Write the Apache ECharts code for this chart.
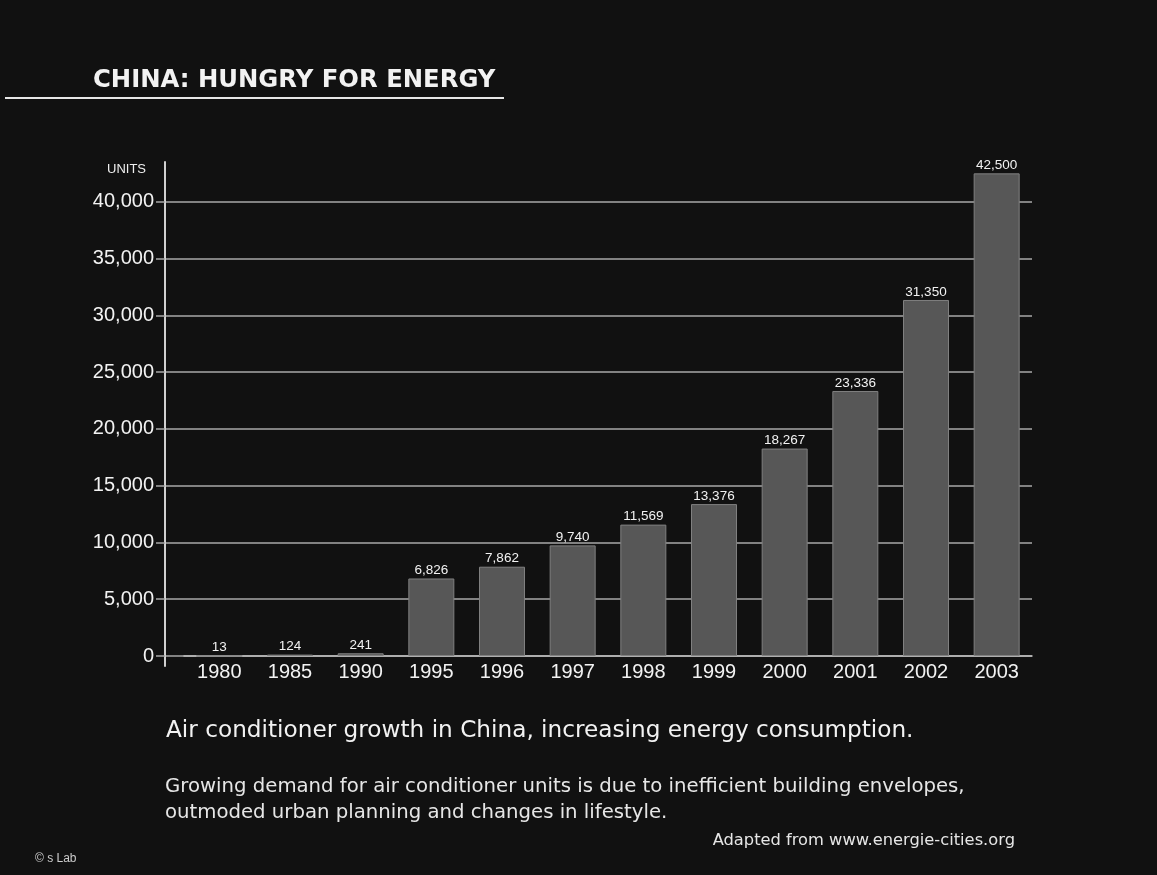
<!DOCTYPE html>
<html>
<head>
<meta charset="utf-8">
<script src="https://cdn.jsdelivr.net/npm/echarts@6/dist/echarts.min.js"></script>
<style>
  html, body { margin: 0; padding: 0; background: #111111; }
  #chart { width: 1157px; height: 875px; }
</style>
</head>
<body>
<div id="chart"></div>
<script>
// ---- data ----
const years = ['1980', '1985', '1990', '1995', '1996', '1997', '1998', '1999', '2000', '2001', '2002', '2003'];
const units = [13, 124, 241, 6826, 7862, 9740, 11569, 13376, 18267, 23336, 31350, 42500];
const yTicks = [0, 5000, 10000, 15000, 20000, 25000, 30000, 35000, 40000];

const titleText = 'CHINA: HUNGRY FOR ENERGY';
const unitText = 'UNITS';
const subtitleText = 'Air conditioner growth in China, increasing energy consumption.';
const bodyText = 'Growing demand for air conditioner units is due to inefficient building envelopes,\noutmoded urban planning and changes in lifestyle.';
const sourceText = 'Adapted from www.energie-cities.org';
const creditText = '\u00A9 s Lab';

const fmt = v => v.toLocaleString('en-US');

const chart = echarts.init(document.getElementById('chart'), null, { renderer: 'canvas' });
const sans = '"Liberation Sans", Arial, Helvetica, sans-serif';
const wide = '"DejaVu Sans", "Liberation Sans", sans-serif';

chart.setOption({
  backgroundColor: '#111111',
  animation: false,
  grid: [
    { left: 165, right: 125, top: 162, bottom: 209 },  // axis + grid lines
    { left: 184, right: 125, top: 162, bottom: 219 }   // bars
  ],
  xAxis: [
    { gridIndex: 0, type: 'category', data: years, show: false },
    {
      gridIndex: 1, type: 'category', data: years,
      axisLine: { show: true, lineStyle: { color: '#bdbdbd', width: 1.5 } },
      axisTick: { show: false },
      axisLabel: { color: '#f2f2f2', fontSize: 20, fontFamily: sans, margin: 6 }
    }
  ],
  yAxis: [
    {
      gridIndex: 0, type: 'value', min: -880, max: 43500,
      axisLine: { show: true, lineStyle: { color: '#d0d0d0', width: 2 } },
      axisTick: { show: true, inside: false, length: 9, customValues: yTicks,
                  lineStyle: { color: '#a8a8a8', width: 1.5 } },
      axisLabel: { customValues: yTicks, color: '#f2f2f2', fontSize: 20, fontFamily: sans,
                   margin: 11, formatter: v => fmt(v) },
      splitLine: { show: true, lineStyle: { color: '#a8a8a8', width: 1.5 } }
    },
    {
      gridIndex: 1, type: 'value', min: 0, max: 43500, show: false,
      splitLine: { show: false }
    }
  ],
  series: [{
    type: 'bar',
    xAxisIndex: 1, yAxisIndex: 1,
    data: units,
    barWidth: 46,
    itemStyle: { color: '#575757', borderColor: '#808080', borderWidth: 1 },
    label: {
      show: true, position: 'top', distance: 1,
      color: '#f2f2f2', fontSize: 13.5, fontFamily: sans,
      formatter: p => fmt(p.value)
    }
  }],
  graphic: [
    { type: 'text', x: 93, y: 81,
      style: { text: titleText, fill: '#f2f2f2', font: 'bold 24.3px ' + wide, verticalAlign: 'middle' } },
    { type: 'line', shape: { x1: 5, y1: 98, x2: 504, y2: 98 },
      style: { stroke: '#e6e6e6', lineWidth: 2 } },
    { type: 'text', x: 107, y: 169,
      style: { text: unitText, fill: '#eeeeee', font: '13px ' + sans, verticalAlign: 'middle' } },
    { type: 'text', x: 166, y: 731,
      style: { text: subtitleText, fill: '#f2f2f2', font: '23.2px ' + wide, verticalAlign: 'middle' } },
    { type: 'text', x: 165, y: 800,
      style: { text: bodyText, fill: '#e6e6e6', font: '19.7px ' + wide,
               lineHeight: 26, verticalAlign: 'middle' } },
    { type: 'text', x: 1015, y: 841,
      style: { text: sourceText, fill: '#e6e6e6', font: '16.3px ' + wide,
               align: 'right', verticalAlign: 'middle' } },
    { type: 'text', x: 35, y: 859,
      style: { text: creditText, fill: '#cccccc', font: '12px ' + sans, verticalAlign: 'middle' } }
  ]
});
</script>
</body>
</html>
